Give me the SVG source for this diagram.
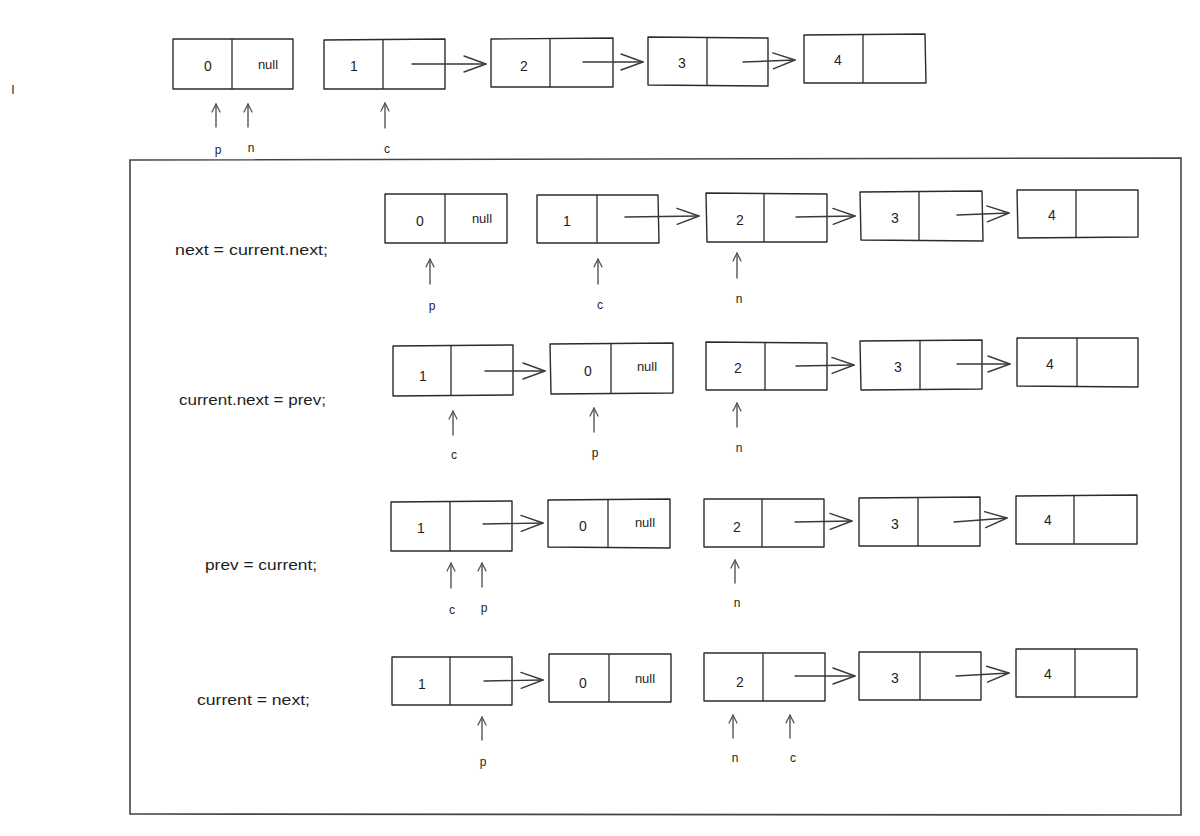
<svg xmlns="http://www.w3.org/2000/svg" width="1200" height="836" viewBox="0 0 1200 836">
<style>
  .box { fill: none; stroke: #2b2b2b; stroke-width: 1.4; stroke-linejoin: round; }
  .div { stroke: #2b2b2b; stroke-width: 1.3; }
  .arr { fill: none; stroke: #3a3a3a; stroke-width: 1.4; stroke-linecap: round; }
  .up { fill: none; stroke: #555; stroke-width: 1.4; stroke-linecap: round; }
  .frame { fill: none; stroke: #444; stroke-width: 1.6; }
  .v { font-family: "Liberation Sans", "DejaVu Sans", sans-serif; font-size: 14px; fill: #1e1e1e; text-anchor: middle; dominant-baseline: central; }
  .nl { font-family: "Liberation Sans", "DejaVu Sans", sans-serif; font-size: 13px; fill: #1e1e1e; text-anchor: middle; dominant-baseline: central; }
  .lb { font-family: "Liberation Sans", "DejaVu Sans", sans-serif; font-size: 12px; fill: #1e1e1e; text-anchor: middle; dominant-baseline: central; }
  .st { font-family: "Liberation Sans", "DejaVu Sans", sans-serif; font-size: 14px; fill: #1e1e1e; dominant-baseline: central; }
</style>
<defs>
  <marker id="head" markerUnits="userSpaceOnUse" markerWidth="26" markerHeight="20" refX="23" refY="9" orient="auto">
    <path d="M1,1 L23,9 L1,17" fill="none" stroke="#3a3a3a" stroke-width="1.4" stroke-linecap="round" stroke-linejoin="round"/>
  </marker>
  <marker id="uphead" markerUnits="userSpaceOnUse" markerWidth="12" markerHeight="12" refX="9" refY="5" orient="auto">
    <path d="M1,1 L9,5 L1,9" fill="none" stroke="#555" stroke-width="1.3" stroke-linecap="round" stroke-linejoin="round"/>
  </marker>
</defs>
<rect width="1200" height="836" fill="#ffffff"/>

<text class="lb" x="13" y="90">I</text>

<!-- frame -->
<polygon class="frame" points="130,160 1181,158 1181,815 130,814"/>

<!-- statements -->
<g id="stmt1"><text class="st" x="175" y="250" textLength="153" lengthAdjust="spacingAndGlyphs">next = current.next;</text></g>
<g id="stmt2"><text class="st" x="179" y="400" textLength="147" lengthAdjust="spacingAndGlyphs">current.next = prev;</text></g>
<g id="stmt3"><text class="st" x="205" y="565" textLength="112" lengthAdjust="spacingAndGlyphs">prev = current;</text></g>
<g id="stmt4"><text class="st" x="197" y="700" textLength="113" lengthAdjust="spacingAndGlyphs">current = next;</text></g>

<!-- ===== Top row ===== -->
<g id="t-n0"><polygon class="box" points="173,39 293,39 293,89 173,89"/><line class="div" x1="232" y1="39" x2="232" y2="89"/><text class="v" x="208" y="66">0</text><text class="nl" x="268" y="64">null</text></g>
<g id="t-n1"><polygon class="box" points="324,40 445,39 445,89 324,89"/><line class="div" x1="383" y1="40" x2="383" y2="89"/><text class="v" x="354" y="66">1</text></g>
<g id="t-n2"><polygon class="box" points="491,39 613,38 613,87 491,87"/><line class="div" x1="550" y1="39" x2="550" y2="87"/><text class="v" x="524" y="66">2</text></g>
<g id="t-n3"><polygon class="box" points="648,37 768,38 768,86 648,85"/><line class="div" x1="707" y1="37" x2="707" y2="85"/><text class="v" x="682" y="63">3</text></g>
<g id="t-n4"><polygon class="box" points="804,35 925,34 926,83 804,83"/><line class="div" x1="863" y1="35" x2="863" y2="83"/><text class="v" x="838" y="60">4</text></g>
<g id="t-labels"><text class="lb" x="218" y="150">p</text><text class="lb" x="251" y="148">n</text><text class="lb" x="387" y="149">c</text></g>

<!-- ===== Row 1 ===== -->
<g id="r1-n0"><polygon class="box" points="385,194 507,194 507,243 385,243"/><line class="div" x1="445" y1="194" x2="445" y2="243"/><text class="v" x="420" y="221">0</text><text class="nl" x="482" y="218">null</text></g>
<g id="r1-n1"><polygon class="box" points="537,195 658,195 659,243 537,243"/><line class="div" x1="597" y1="195" x2="597" y2="243"/><text class="v" x="567" y="221">1</text></g>
<g id="r1-n2"><polygon class="box" points="706,193 827,194 827,242 707,242"/><line class="div" x1="764" y1="193" x2="764" y2="242"/><text class="v" x="740" y="220">2</text></g>
<g id="r1-n3"><polygon class="box" points="860,192 982,191 983,241 861,240"/><line class="div" x1="919" y1="192" x2="919" y2="241"/><text class="v" x="895" y="218">3</text></g>
<g id="r1-n4"><polygon class="box" points="1017,190 1138,190 1138,237 1018,238"/><line class="div" x1="1076" y1="190" x2="1076" y2="238"/><text class="v" x="1052" y="215">4</text></g>
<g id="r1-labels"><text class="lb" x="432" y="306">p</text><text class="lb" x="600" y="305">c</text><text class="lb" x="739" y="299">n</text></g>

<!-- ===== Row 2 ===== -->
<g id="r2-n1"><polygon class="box" points="393,346 513,345 513,395 393,396"/><line class="div" x1="451" y1="346" x2="451" y2="395"/><text class="v" x="423" y="376">1</text></g>
<g id="r2-n0"><polygon class="box" points="550,344 673,343 673,393 551,394"/><line class="div" x1="611" y1="344" x2="611" y2="394"/><text class="v" x="588" y="371">0</text><text class="nl" x="647" y="366">null</text></g>
<g id="r2-n2"><polygon class="box" points="706,342 827,343 827,390 706,390"/><line class="div" x1="765" y1="342" x2="765" y2="390"/><text class="v" x="738" y="368">2</text></g>
<g id="r2-n3"><polygon class="box" points="860,341 982,340 982,389 861,390"/><line class="div" x1="920" y1="341" x2="920" y2="389"/><text class="v" x="898" y="367">3</text></g>
<g id="r2-n4"><polygon class="box" points="1017,338 1138,338 1138,387 1017,386"/><line class="div" x1="1077" y1="338" x2="1077" y2="387"/><text class="v" x="1050" y="364">4</text></g>
<g id="r2-labels"><text class="lb" x="454" y="455">c</text><text class="lb" x="595" y="453">p</text><text class="lb" x="739" y="448">n</text></g>

<!-- ===== Row 3 ===== -->
<g id="r3-n1"><polygon class="box" points="391,502 512,501 512,551 391,551"/><line class="div" x1="450" y1="502" x2="450" y2="551"/><text class="v" x="421" y="528">1</text></g>
<g id="r3-n0"><polygon class="box" points="548,500 670,499 670,548 548,547"/><line class="div" x1="608" y1="500" x2="608" y2="548"/><text class="v" x="583" y="526">0</text><text class="nl" x="645" y="522">null</text></g>
<g id="r3-n2"><polygon class="box" points="704,499 824,499 824,547 704,547"/><line class="div" x1="762" y1="499" x2="762" y2="547"/><text class="v" x="737" y="527">2</text></g>
<g id="r3-n3"><polygon class="box" points="859,498 980,497 980,546 859,546"/><line class="div" x1="918" y1="498" x2="918" y2="546"/><text class="v" x="895" y="524">3</text></g>
<g id="r3-n4"><polygon class="box" points="1016,496 1137,495 1137,544 1016,544"/><line class="div" x1="1074" y1="496" x2="1074" y2="544"/><text class="v" x="1048" y="520">4</text></g>
<g id="r3-labels"><text class="lb" x="452" y="610">c</text><text class="lb" x="484" y="608">p</text><text class="lb" x="737" y="603">n</text></g>

<!-- ===== Row 4 ===== -->
<g id="r4-n1"><polygon class="box" points="392,657 512,657 512,705 392,705"/><line class="div" x1="450" y1="657" x2="450" y2="705"/><text class="v" x="422" y="684">1</text></g>
<g id="r4-n0"><polygon class="box" points="549,654 671,654 671,702 549,702"/><line class="div" x1="609" y1="654" x2="609" y2="702"/><text class="v" x="583" y="683">0</text><text class="nl" x="645" y="678">null</text></g>
<g id="r4-n2"><polygon class="box" points="704,653 825,653 825,701 704,701"/><line class="div" x1="763" y1="653" x2="763" y2="701"/><text class="v" x="740" y="682">2</text></g>
<g id="r4-n3"><polygon class="box" points="859,652 981,652 981,700 859,700"/><line class="div" x1="920" y1="652" x2="920" y2="700"/><text class="v" x="895" y="678">3</text></g>
<g id="r4-n4"><polygon class="box" points="1016,649 1137,649 1137,697 1016,697"/><line class="div" x1="1075" y1="649" x2="1075" y2="697"/><text class="v" x="1048" y="674">4</text></g>
<g id="r4-labels"><text class="lb" x="483" y="762">p</text><text class="lb" x="735" y="758">n</text><text class="lb" x="793" y="758">c</text></g>

<!-- ===== Connectors ===== -->
<g id="connectors">
  <!-- top row -->
  <line class="arr" x1="412" y1="64" x2="486" y2="64" marker-end="url(#head)"/>
  <line class="arr" x1="583" y1="62" x2="643" y2="62" marker-end="url(#head)"/>
  <line class="arr" x1="743" y1="62" x2="795" y2="60" marker-end="url(#head)"/>
  <line class="up" x1="216" y1="127" x2="216" y2="104" marker-end="url(#uphead)"/>
  <line class="up" x1="248" y1="127" x2="248" y2="104" marker-end="url(#uphead)"/>
  <line class="up" x1="385" y1="128" x2="385" y2="103" marker-end="url(#uphead)"/>
  <!-- row 1 -->
  <line class="arr" x1="625" y1="217" x2="699" y2="216" marker-end="url(#head)"/>
  <line class="arr" x1="796" y1="217" x2="855" y2="216" marker-end="url(#head)"/>
  <line class="arr" x1="957" y1="215" x2="1009" y2="213" marker-end="url(#head)"/>
  <line class="up" x1="430" y1="284" x2="430" y2="259" marker-end="url(#uphead)"/>
  <line class="up" x1="598" y1="284" x2="598" y2="259" marker-end="url(#uphead)"/>
  <line class="up" x1="737" y1="278" x2="737" y2="253" marker-end="url(#uphead)"/>
  <!-- row 2 -->
  <line class="arr" x1="485" y1="371" x2="545" y2="371" marker-end="url(#head)"/>
  <line class="arr" x1="796" y1="366" x2="854" y2="365" marker-end="url(#head)"/>
  <line class="arr" x1="957" y1="364" x2="1010" y2="364" marker-end="url(#head)"/>
  <line class="up" x1="453" y1="435" x2="453" y2="411" marker-end="url(#uphead)"/>
  <line class="up" x1="594" y1="432" x2="594" y2="408" marker-end="url(#uphead)"/>
  <line class="up" x1="737" y1="427" x2="737" y2="403" marker-end="url(#uphead)"/>
  <!-- row 3 -->
  <line class="arr" x1="483" y1="524" x2="543" y2="523" marker-end="url(#head)"/>
  <line class="arr" x1="795" y1="522" x2="852" y2="521" marker-end="url(#head)"/>
  <line class="arr" x1="954" y1="522" x2="1007" y2="518" marker-end="url(#head)"/>
  <line class="up" x1="451" y1="588" x2="451" y2="563" marker-end="url(#uphead)"/>
  <line class="up" x1="482" y1="587" x2="482" y2="563" marker-end="url(#uphead)"/>
  <line class="up" x1="735" y1="583" x2="735" y2="560" marker-end="url(#uphead)"/>
  <!-- row 4 -->
  <line class="arr" x1="484" y1="681" x2="543" y2="680" marker-end="url(#head)"/>
  <line class="arr" x1="795" y1="676" x2="855" y2="676" marker-end="url(#head)"/>
  <line class="arr" x1="956" y1="676" x2="1009" y2="673" marker-end="url(#head)"/>
  <line class="up" x1="482" y1="740" x2="482" y2="717" marker-end="url(#uphead)"/>
  <line class="up" x1="733" y1="738" x2="733" y2="715" marker-end="url(#uphead)"/>
  <line class="up" x1="790" y1="738" x2="790" y2="715" marker-end="url(#uphead)"/>
</g>
</svg>
